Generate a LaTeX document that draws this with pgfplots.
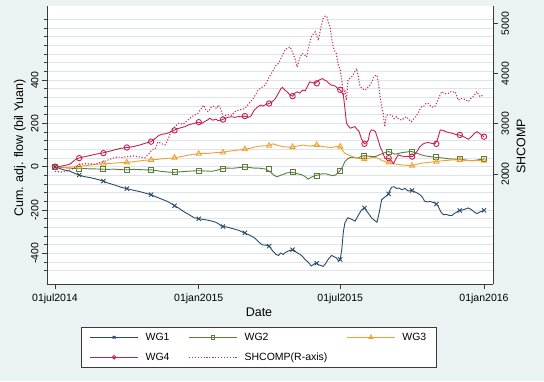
\documentclass[border=0pt]{standalone}
\usepackage{fontspec}
\setmainfont{Liberation Sans}
\usepackage{pgfplots}
\usepackage{pgfplotstable}
\pgfplotsset{compat=1.18}
\definecolor{bgc}{HTML}{EAF2F3}
\definecolor{gridc}{HTML}{DCE5EA}
\definecolor{axc}{HTML}{3A3A3A}
\definecolor{c1}{HTML}{2C4B6B}
\definecolor{c2}{HTML}{5A7E3A}
\definecolor{c3}{HTML}{F0A033}
\definecolor{c4}{HTML}{C42352}
\definecolor{c5}{HTML}{C22E58}

\pgfplotstableread{
d v
0 0
6 -8
12 -15
19 -20
25 -30
30 -37
37 -45
45 -50
52 -56
60 -64
68 -75
77 -85
85 -95
92 -101
100 -108
109 -115
116 -122
123 -129
130 -140
137 -150
144 -160
151 -175
158 -190
166 -210
172 -222
178 -235
184 -240
190 -243
196 -247
200 -250
205 -255
209 -262
213 -274
220 -278
227 -285
235 -293
242 -305
249 -315
256 -330
261 -348
265 -360
270 -362
274 -366
279 -390
283 -405
286 -409
289 -398
292 -405
295 -395
299 -388
305 -382
309 -395
314 -405
317 -415
320 -428
324 -440
328 -458
331 -450
334 -443
337 -452
340 -455
343 -460
346 -448
350 -425
354 -409
357 -415
360 -420
363 -435
365 -428
367 -382
369 -300
371 -259
373 -245
375 -235
378 -240
381 -245
384 -251
388 -225
392 -200
396 -190
400 -210
405 -235
408 -245
412 -256
415 -210
418 -152
422 -140
426 -129
429 -105
431 -94
434 -92
437 -100
440 -98
444 -106
448 -100
452 -112
456 -109
460 -115
464 -122
467 -129
470 -140
473 -159
477 -162
480 -160
486 -167
490 -180
494 -210
497 -221
501 -220
504 -224
508 -225
511 -215
514 -210
517 -202
521 -200
525 -195
529 -190
533 -198
537 -210
540 -216
543 -210
546 -205
549 -201
}\wgone

\pgfplotstableread{
d v
0 0
8 -3
15 -5
22 -7
30 -9
38 -8
45 -10
52 -10
60 -11
68 -12
75 -11
83 -13
92 -14
100 -12
108 -13
115 -14
123 -14
130 -18
137 -22
144 -24
151 -26
158 -24
165 -22
172 -20
178 -19
184 -18
190 -19
196 -20
200 -21
205 -18
209 -14
213 -9
220 -6
227 -7
235 -4
243 -1
250 -4
255 -6
260 -6
265 -8
270 -11
276 -25
280 -38
284 -47
288 -40
292 -35
297 -28
304 -26
308 -30
312 -34
316 -37
320 -45
324 -57
328 -48
333 -41
337 -38
341 -33
346 -32
350 -36
354 -40
357 -41
360 -35
363 -25
365 -17
368 0
371 24
374 35
377 42
380 44
384 42
388 40
392 48
396 52
400 50
405 47
410 47
415 55
420 62
424 68
427 70
431 65
435 58
440 62
445 66
450 68
453 70
457 70
460 66
465 60
469 55
474 50
480 47
486 44
492 42
498 40
503 37
508 36
513 35
517 35
522 33
528 30
533 28
538 30
543 33
549 35
}\wgtwo

\pgfplotstableread{
d v
0 0
8 -2
15 -3
22 -1
30 1
38 5
45 8
52 11
60 14
68 15
76 17
84 19
92 20
100 23
108 27
115 30
123 32
130 34
137 37
144 39
151 40
158 45
166 50
172 55
178 58
184 60
190 62
196 62
202 64
208 66
213 66
220 70
227 74
234 77
243 81
250 85
256 92
262 95
268 97
274 97
279 106
284 100
289 95
294 92
298 91
304 91
309 95
313 98
318 100
322 97
327 95
331 99
335 101
340 95
345 92
350 90
355 89
360 94
365 93
369 70
372 60
375 55
380 48
385 42
390 38
396 35
400 38
405 42
410 43
414 38
418 30
422 24
427 20
432 15
437 12
443 9
450 7
456 5
460 8
466 14
470 17
477 20
486 24
494 27
503 30
510 32
517 32
523 30
529 29
534 28
540 29
544 28
549 28
}\wgthree

\pgfplotstableread{
d v
0 0
8 3
15 8
20 14
25 30
30 40
37 46
45 52
52 58
60 63
68 70
76 78
84 85
92 89
100 93
108 100
115 108
123 116
128 130
133 145
137 150
141 152
146 158
151 166
156 175
161 180
166 185
172 195
178 200
184 206
188 200
192 210
195 215
198 224
202 215
206 220
209 212
213 216
217 222
221 228
226 231
230 228
235 232
240 230
243 234
247 228
251 235
255 262
259 275
263 285
266 280
270 288
274 292
278 300
282 315
286 340
289 360
291 366
294 355
297 346
301 330
304 326
307 340
310 346
313 340
317 354
320 350
323 370
326 392
330 388
333 385
336 395
339 402
342 407
345 400
348 395
350 387
353 378
356 375
359 372
362 360
364 357
366 350
369 331
371 270
373 201
376 185
378 178
381 182
384 185
387 170
389 165
392 130
396 106
399 112
401 124
403 160
405 170
408 168
410 162
413 130
416 93
419 70
422 40
425 38
427 40
430 30
433 14
436 35
439 55
443 50
448 47
452 48
457 47
460 55
464 75
467 93
471 105
474 110
478 112
482 108
486 106
489 120
493 170
497 168
500 162
504 158
508 155
512 150
517 147
521 142
525 135
529 127
533 140
537 155
540 162
543 155
546 145
549 139
}\wgfour

\pgfplotstableread{
d v
0 2050
8 2040
13 2050
20 2080
25 2130
30 2180
38 2210
45 2200
51 2195
58 2230
65 2260
73 2310
80 2340
86 2330
92 2345
100 2360
108 2340
115 2325
120 2400
124 2480
128 2500
132 2640
137 2600
141 2580
145 2700
149 2875
153 2940
158 3010
164 2990
170 3075
176 3150
183 3210
187 3300
190 3370
193 3280
196 3240
200 3330
203 3350
207 3300
209 3370
212 3300
215 3140
220 3180
226 3170
230 3240
235 3270
240 3290
243 3305
248 3400
252 3470
256 3560
260 3670
265 3730
269 3770
273 3900
277 4000
282 4150
286 4200
290 4330
294 4465
298 4510
301 4530
304 4420
307 4300
310 4130
313 4300
316 4400
319 4380
322 4330
325 4550
328 4730
331 4800
333 4830
335 4750
337 4660
340 4900
343 5095
346 5150
348 5130
350 5000
352 4930
354 4700
356 4530
358 4450
360 4400
362 4200
365 4070
367 3870
369 3570
371 3650
373 3470
375 3870
378 3920
380 3940
383 4020
386 4100
388 3950
390 3770
393 3700
397 3670
400 3720
403 3770
406 3850
408 3940
410 3960
412 3970
414 3800
416 3540
418 3350
420 3210
422 2940
424 3170
427 3180
431 3175
434 3100
437 3140
440 3090
444 3075
447 3120
450 3140
453 3080
456 3040
459 3100
463 3175
466 3260
469 3340
472 3350
475 3410
478 3400
482 3330
486 3340
490 3470
493 3580
495 3640
499 3600
503 3605
507 3640
510 3630
512 3640
516 3470
519 3500
522 3505
526 3470
529 3440
532 3500
535 3540
538 3600
540 3640
542 3580
544 3540
546 3560
549 3540
}\shcomp

\begin{document}
\begin{tikzpicture}
\fill[bgc] (0,0) rectangle (544pt,381pt);
\begin{axis}[
  at={(47pt,97pt)}, anchor=south west,
  width=446pt, height=278pt, scale only axis,
  xmin=-10.2, xmax=560.5, ymin=-541, ymax=742,
  axis x line*=bottom, axis y line*=left,
  axis line style={draw=axc, line width=0.7pt, -},
  axis background/.style={fill=white},
  xtick={0,184,365,549},
  xticklabels={01jul2014,01jan2015,01jul2015,01jan2016},
  ytick={-400,-200,0,200,400},
  minor ytick={-480,-440,...,680},
  ymajorgrids, yminorgrids,
  major grid style={gridc, line width=0.6pt},
  minor grid style={gridc, line width=0.6pt},
  tick align=outside,
  major tick length=5pt, minor tick length=3pt,
  every tick/.style={axc, line width=0.6pt},
  ticklabel style={font=\fontsize{10.5}{12}\selectfont},
  xticklabel style={yshift=-1.5pt},
  /pgf/number format/assume math mode=true,
  yticklabel style={rotate=90, anchor=south},
  xlabel={Date},
  xlabel style={font=\fontsize{12.5}{14}\selectfont, at={(axis description cs:0.4753,-0.103)}, anchor=center},
  ylabel={Cum. adj. flow (bil Yuan)},
  ylabel style={font=\fontsize{12.5}{14}\selectfont, at={(axis description cs:-0.0605,0.489)}, anchor=center},
  legend columns=3,
  legend cell align=left,
  legend image code/.code={\draw[#1, mark repeat=2, mark phase=2] plot coordinates {(0pt,0pt) (24pt,0pt) (48pt,0pt)}; \path (53pt,0pt);},
  legend style={at={(axis description cs:0.4753,-0.1547)}, anchor=north, draw=axc, line width=0.7pt, fill=white,
    font=\fontsize{10.5}{12}\selectfont, inner xsep=8pt, inner ysep=3.5pt, row sep=7pt,
    /tikz/every even column/.append style={column sep=17pt}},
]
\addlegendimage{c1, line width=0.9pt, mark=x, mark size=2pt, mark options={solid}}
\addlegendentry{WG1}
\addlegendimage{c2, line width=0.9pt, mark=square, mark size=1.8pt, mark options={solid}}
\addlegendentry{WG2}
\addlegendimage{c3, line width=0.9pt, mark=triangle, mark size=2.2pt, mark options={solid}}
\addlegendentry{WG3}
\addlegendimage{c4, line width=0.9pt, mark=o, mark size=1.8pt, mark options={solid}}
\addlegendentry{WG4}
\addlegendimage{c5, line width=1.1pt, dash pattern=on 1.1pt off 1.8pt}
\addlegendentry{SHCOMP(R-axis)}

\addplot[c2, line width=0.9pt, forget plot] table[x=d,y=v]{\wgtwo};
\addplot[c2, only marks, mark=square, mark size=2.5pt, mark options={line width=0.9pt}, forget plot] coordinates {
(0,0)(31,-9)(62,-11)(92,-14)(123,-14)(153,-25)(184,-18)(215,-8)(243,-1)(274,-11)(304,-26)(335,-41)(365,-17)(396,52)(427,70)(457,70)(488,44)(518,35)(549,35)};
\addplot[c3, line width=0.9pt, forget plot] table[x=d,y=v]{\wgthree};
\addplot[c3, only marks, mark=triangle, mark size=3pt, mark options={line width=0.9pt}, forget plot] coordinates {
(0,0)(31,1)(62,14)(92,20)(123,32)(153,42)(184,60)(215,66)(243,81)(274,97)(304,91)(335,101)(365,93)(396,35)(427,20)(457,5)(488,24)(518,32)(549,28)};
\addplot[c1, line width=0.9pt, forget plot] table[x=d,y=v]{\wgone};
\addplot[c1, only marks, mark=x, mark size=3pt, mark options={line width=0.9pt}, forget plot] coordinates {
(0,0)(31,-38)(62,-66)(92,-101)(123,-129)(153,-180)(184,-240)(215,-276)(243,-305)(274,-366)(304,-383)(335,-445)(365,-428)(396,-190)(427,-125)(457,-109)(488,-172)(518,-202)(549,-201)};
\addplot[c4, line width=0.9pt, forget plot] table[x=d,y=v]{\wgfour};
\addplot[c4, only marks, mark=o, mark size=2.7pt, mark options={line width=0.9pt}, forget plot] coordinates {
(0,0)(31,40)(62,63)(92,89)(123,116)(153,168)(184,206)(215,218)(243,234)(274,292)(304,326)(335,385)(365,355)(396,106)(427,40)(457,47)(488,106)(518,147)(549,139)};
\end{axis}
\begin{axis}[
  at={(47pt,97pt)}, anchor=south west,
  width=446pt, height=278pt, scale only axis,
  xmin=-10.2, xmax=560.5, ymin=-190, ymax=5345,
  axis x line=none, axis y line*=right,
  axis line style={draw=axc, line width=0.7pt, -},
  ytick={2000,3000,4000,5000},
  tick align=outside,
  major tick length=5pt,
  every tick/.style={axc, line width=0.6pt},
  ticklabel style={font=\fontsize{10.5}{12}\selectfont},
  /pgf/number format/assume math mode=true,
  /pgf/number format/1000 sep={},
  yticklabel style={rotate=90, anchor=north},
  ylabel={SHCOMP},
  ylabel style={font=\fontsize{12.5}{14}\selectfont, at={(axis description cs:1.0628,0.496)}, anchor=center, rotate=0},
]
\addplot[c5, line width=1.1pt, dash pattern=on 1.1pt off 1.8pt, forget plot] table[x=d,y=v]{\shcomp};
\end{axis}
\pgfresetboundingbox
\useasboundingbox (0,0) rectangle (544pt,381pt);
\end{tikzpicture}
\end{document}
